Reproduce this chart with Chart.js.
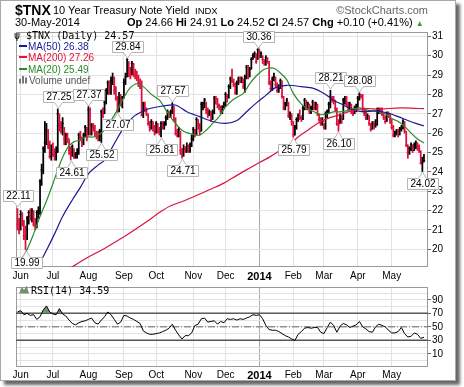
<!DOCTYPE html>
<html><head><meta charset="utf-8">
<script src="https://cdn.jsdelivr.net/npm/chart.js@4.4.1/dist/chart.umd.min.js"></script>
<style>
html,body{margin:0;padding:0;background:#fff;width:464px;height:387px;overflow:hidden;}
#frame{position:absolute;left:0;top:0;width:454px;height:379px;border:1px solid #a8a8a8;box-shadow:4px 4px 3px rgba(0,0,0,0.6);background:#fff;}
canvas{position:absolute;left:0;}
.t{position:absolute;white-space:nowrap;line-height:1;font-family:"Liberation Sans",Arial,sans-serif;color:#000;}
.mono{font-family:"DejaVu Sans Mono",monospace;font-size:10px;}
.dash{display:inline-block;width:8px;height:2px;vertical-align:middle;margin-right:1px;position:relative;top:-1px;}
</style></head><body>
<div id="frame"></div>
<canvas id="c1" width="464" height="285" style="top:0;width:464px;height:285px"></canvas>
<canvas id="c2" width="464" height="101" style="top:280px;width:464px;height:101px"></canvas>

<div class="t" style="left:15px;top:3px;font-size:14px;font-weight:bold">$TNX</div>
<div class="t" style="left:53px;top:4.5px;font-size:11px">10 Year Treasury Note Yield</div>
<div class="t" style="left:195px;top:5.5px;font-size:9.5px">INDX</div>
<div class="t" style="right:36px;top:4.5px;font-size:11px;color:#666">©StockCharts.com</div>
<div class="t" style="left:15px;top:17.4px;font-size:11px">30-May-2014</div>
<div class="t" style="left:127px;top:17.4px;font-size:11px"><b>Op</b> 24.66 <b>Hi</b> 24.91 <b>Lo</b> 24.52 <b>Cl</b> 24.57 <b>Chg</b> +0.10 (+0.41%) <span style="color:#3a9a3a;font-size:8px">▲</span></div>

<div class="t mono" style="left:14px;top:31px">ψ $TNX (Daily) 24.57</div>
<div class="t" style="left:19px;top:41.5px;font-size:10px;color:#1a1a96"><span class="dash" style="background:#1a1a96"></span>MA(50) 26.38</div>
<div class="t" style="left:19px;top:53px;font-size:10px;color:#dc143c"><span class="dash" style="background:#dc143c"></span>MA(200) 27.26</div>
<div class="t" style="left:19px;top:64.5px;font-size:10px;color:#2b8a2b"><span class="dash" style="background:#2b8a2b"></span>MA(20) 25.49</div>
<div class="t" style="left:19px;top:75.5px;font-size:10px;color:#555"><span style="display:inline-block;width:9px;height:8px;margin-right:1px;background:linear-gradient(90deg,#777 0 2px,transparent 2px 3px,#777 3px 5px,transparent 5px 6px,#777 6px 8px,transparent 8px);clip-path:polygon(0 40%,33% 40%,33% 0,66% 0,66% 25%,100% 25%,100% 100%,0 100%)"></span>Volume undef</div>

<div class="t mono" style="left:19px;top:285.5px"><span style="display:inline-block;width:10px;height:8px;background:#6f8f6f;clip-path:polygon(0 100%,30% 15%,50% 55%,75% 0,100% 100%);margin-right:2px"></span>RSI(14) 34.59</div>

<script>
// ---------- data ----------
const monthIdx = [2,22,44,66,86,109,129,150,171,190,211,232];
const monthLbl = ['Jun','Jul','Aug','Sep','Oct','Nov','Dec','2014','Feb','Mar','Apr','May'];
const priceTicks = [20,21,22,23,24,25,26,27,28,29,30,31];
const rsiTicks = [0,10,20,30,40,50,60,70,80,90,100];
const rsiLabeled = [10,30,50,70,90];

const hi = [
22.11,21.6,22.0,21.9,21.5,21.2,21.7,22.0,22.1,22.1,
22.0,21.6,22.0,22.2,23.6,24.4,25.3,26.6,26.5,26.2,
25.6,25.4,25.5,25.2,25.3,27.25,27.0,26.6,26.8,26.3,
26.0,26.0,25.7,25.3,25.4,25.2,25.0,25.2,26.0,26.1,
25.8,26.0,26.4,26.3,27.37,27.3,26.5,26.5,26.4,26.1,
26.1,26.2,27.2,27.3,27.8,28.3,28.7,28.7,28.9,29.1,
28.9,28.4,27.9,28.1,28.0,27.9,28.8,29.1,29.84,29.7,
29.4,29.7,29.6,29.3,29.2,29.0,28.8,28.7,27.6,27.6,
27.3,27.0,26.6,26.7,26.6,26.4,26.6,26.5,26.3,26.6,
26.6,26.6,26.9,27.2,27.1,27.2,27.57,27.4,26.8,26.2,
26.3,26.1,25.2,25.4,25.3,25.5,25.4,25.5,25.9,26.3,
26.2,26.8,26.7,26.5,27.6,27.6,27.8,27.6,27.3,27.2,
27.1,27.2,27.9,27.9,27.8,27.5,27.4,27.4,27.6,28.1,
28.0,28.5,28.9,29.3,28.8,28.6,28.7,28.9,28.9,28.9,
28.8,29.0,29.5,29.5,29.4,29.9,30.1,30.2,30.1,30.36,
30.3,30.2,30.0,29.8,30.0,29.9,29.7,28.7,28.9,29.1,
28.9,28.6,28.5,28.8,28.7,27.9,27.6,27.8,27.6,27.1,
27.0,26.6,26.4,26.8,27.0,27.2,26.9,27.4,27.8,27.7,
27.6,27.5,27.4,27.7,27.6,27.6,27.5,27.0,26.8,26.8,
26.5,27.1,27.2,27.6,28.21,27.9,27.9,27.7,27.3,26.7,
27.0,26.9,27.8,27.9,27.9,27.6,27.6,27.5,27.2,27.4,
27.5,27.9,28.08,28.0,28.0,27.3,27.2,27.0,26.9,26.5,
26.6,26.6,26.7,27.3,27.3,27.3,27.3,27.0,26.9,27.1,
27.1,27.0,26.7,26.4,26.1,26.2,26.2,26.3,26.4,26.7,
26.6,26.1,25.4,25.3,25.5,25.4,25.5,25.6,25.5,25.4,
25.1,24.76,24.91];

const lo = [
21.0,20.8,21.0,21.2,20.5,19.99,20.5,21.3,21.5,21.4,
21.2,21.0,21.1,21.6,21.8,23.3,23.9,25.0,25.4,25.2,
24.7,24.6,24.8,24.6,24.6,25.0,26.1,26.0,25.9,25.4,
25.4,25.5,24.9,24.61,24.8,24.7,24.7,24.7,24.9,25.6,
25.3,25.4,25.8,25.6,25.9,25.9,25.9,26.1,25.8,25.7,
25.6,25.6,25.52,26.8,27.0,27.5,28.0,28.0,28.0,28.5,
28.0,27.7,27.07,27.1,27.4,27.3,27.8,28.5,28.9,28.9,
28.8,29.0,28.9,28.8,28.7,28.4,28.3,26.9,26.8,27.1,
26.9,26.4,26.1,26.2,26.1,25.9,26.0,26.0,25.9,25.81,
26.2,26.2,26.4,26.7,26.8,26.8,27.0,26.6,25.9,25.8,
25.8,24.9,24.71,24.8,25.0,25.0,25.0,25.0,25.3,25.6,
25.8,25.9,26.2,25.9,26.1,27.2,27.3,27.0,26.8,26.9,
26.6,26.7,27.0,27.5,27.3,27.2,27.0,27.0,27.3,27.4,
27.6,27.8,28.3,28.6,28.4,28.0,28.0,28.5,28.6,28.6,
28.3,28.1,28.8,28.8,28.9,29.3,29.8,29.9,29.6,29.8,
29.9,29.9,29.6,29.5,29.5,29.6,28.5,28.2,28.2,28.7,
28.4,28.1,28.1,28.3,27.8,27.2,27.2,27.4,26.8,26.7,
26.4,25.79,25.9,26.2,26.6,26.7,26.6,26.7,27.2,27.2,
27.2,27.0,27.0,27.2,27.2,27.2,26.9,26.6,26.4,26.4,
26.2,26.2,26.8,27.0,27.3,27.6,27.5,27.1,26.4,26.10,
26.5,26.5,26.7,27.5,27.4,27.2,27.2,27.0,26.9,27.0,
27.1,27.3,27.7,27.8,27.1,26.9,26.7,26.7,26.4,26.1,
26.2,26.2,26.3,26.4,27.0,27.0,26.9,26.7,26.5,26.6,
26.8,26.5,26.2,25.8,25.8,25.9,25.8,25.9,26.1,26.2,
26.0,25.3,24.7,24.9,25.1,25.0,25.1,25.2,25.1,25.0,
24.4,24.02,24.52];

const cl = [
21.3,21.0,21.8,21.4,20.7,20.6,21.6,21.9,21.7,22.0,
21.3,21.2,21.9,22.0,23.5,24.1,25.2,25.5,26.1,25.4,
24.8,25.0,24.9,24.8,25.0,27.0,26.4,26.3,26.5,25.7,
25.9,25.7,25.1,25.0,25.3,24.8,24.9,25.0,25.9,25.8,
25.5,25.9,26.3,25.8,27.2,26.0,26.4,26.3,26.0,25.9,
25.8,26.1,27.1,27.0,27.6,28.2,28.6,28.1,28.7,28.8,
28.2,27.8,27.2,27.8,27.5,27.8,28.6,28.9,29.8,29.3,
29.0,29.6,29.1,29.0,28.9,28.6,28.5,26.9,27.5,27.3,
27.0,26.5,26.3,26.6,26.3,26.1,26.5,26.2,26.1,26.5,
26.4,26.5,26.8,27.1,27.0,27.1,27.3,26.7,26.0,25.9,
26.2,25.1,24.9,25.2,25.15,25.3,25.1,25.4,25.7,26.2,
26.0,26.7,26.4,26.1,27.5,27.55,27.7,27.2,27.0,27.1,
26.7,27.1,27.8,27.75,27.5,27.4,27.1,27.4,27.5,28.0,
27.9,28.4,28.8,28.7,28.5,28.1,28.6,28.8,28.7,28.8,
28.4,28.9,29.4,28.9,29.3,29.8,30.0,30.1,29.7,30.3,
30.0,30.1,29.8,29.6,29.9,29.7,28.6,28.3,28.8,28.9,
28.5,28.2,28.3,28.7,27.9,27.3,27.5,27.7,26.9,27.0,
26.6,25.9,26.3,26.7,26.9,26.8,26.75,27.3,27.7,27.4,
27.5,27.1,27.3,27.6,27.3,27.5,27.0,26.7,26.5,26.6,
26.3,27.0,27.1,27.5,27.9,27.8,27.7,27.3,26.5,26.45,
26.9,26.7,27.7,27.8,27.5,27.4,27.5,27.1,27.0,27.3,
27.35,27.8,28.0,27.9,27.2,27.1,26.8,26.9,26.5,26.2,
26.5,26.4,26.45,27.2,27.25,27.2,27.0,26.8,26.6,27.0,
26.95,26.7,26.3,25.9,26.0,26.1,26.0,26.2,26.25,26.6,
26.1,25.4,25.0,25.2,25.4,25.1,25.4,25.5,25.3,25.2,
24.45,24.47,24.57];

const ma20X = [0,6,10,14,18,22,25,28,32,35,39,42,47,50,54,58,62,66,70,74,78,83,88,92,96,102,108,113,117,121,125,129,134,140,144,148,152,155,159,163,167,171,176,180,184,188,192,196,200,204,208,212,216,220,224,228,232,236,240,244,248,252];
const ma20V = [19.1,20.0,20.8,21.7,22.5,23.4,24.1,24.75,25.35,25.55,25.65,25.8,25.8,25.9,26.15,26.65,27.2,27.85,28.35,28.55,28.4,28.0,27.7,27.2,26.7,26.15,25.95,25.9,26.15,26.5,26.85,27.35,27.75,28.05,28.55,28.95,29.25,29.35,29.35,29.1,28.75,28.05,27.5,27.25,27.1,26.95,27.0,27.1,27.1,27.15,27.25,27.3,27.2,27.15,27.1,27.0,26.75,26.6,26.35,26.0,25.7,25.49];

const ma50X = [12,18,23,28,34,39,44,50,54,60,66,72,77,82,90,98,105,113,121,129,136,142,148,154,160,167,176,184,190,196,202,208,215,221,229,236,242,247,252];
const ma50V = [19.0,19.95,20.8,21.7,22.55,23.2,23.9,24.35,24.6,25.45,26.3,26.85,27.1,27.27,27.4,27.45,27.1,26.85,26.6,26.5,26.65,27.1,27.55,27.95,28.35,28.47,28.4,28.3,28.05,27.7,27.45,27.2,27.1,27.15,27.05,26.85,26.65,26.5,26.38];

const ma200X = [32,43,55,68,80,88,95,103,111,119,128,136,144,150,157,163,169,174,180,186,192,199,205,211,217,224,230,238,246,252];
const ma200V = [19.0,19.55,20.1,20.75,21.42,21.9,22.25,22.5,22.78,23.08,23.42,23.82,24.2,24.48,24.8,25.12,25.42,25.8,26.15,26.5,26.75,26.93,27.1,27.22,27.27,27.23,27.27,27.3,27.28,27.26];

// RSI(14), one value every 2 trading days (index 0,2,4,...,252)
const rsiV = [72,74,68,70,67,68,61,65,75,81,
72,69,68,77,69,66,60,55,53,56,
58,59,61,63,56,54,60,65,72,68,
61,54,57,67,66,63,61,58,55,44,
41,39,39,40,41,43,45,48,54,45,
38,32,37,37,41,52,54,62,63,57,
58,59,54,58,56,62,61,62,60,62,
61,63,65,68,67,68,62,52,46,45,
45,43,40,37,35,32,30,39,43,48,
49,48,49,49,42,40,49,57,52,42,
51,55,53,49,51,53,58,50,47,43,
42,50,54,52,50,45,41,41,43,49,
40,35,36,41,39,33,34.59];

const annIdx  = [0,5,25,33,44,52,62,68,89,96,102,149,171,194,199,212,251];
const annHigh = [1,0,1,0,1,0,0,1,0,1,0,1,0,1,0,1,0];

// ---------- chart ----------
const F = '"Liberation Sans", Arial, sans-serif';
const XMIN = -0.9, XMAX = 254.5;
const N = cl.length;
const idxs = Array.from({length:N}, (_, i) => i);
const RED = '#e0103c', BLK = '#000000';
const barCol = idxs.map(i => (i > 0 && cl[i] > cl[i-1]) ? BLK : RED);
const pts = (xs, vs) => xs.map((x, k) => ({x: x, y: vs[k]}));

const frameBox = {id:'frameBox', beforeDatasetsDraw(ch){
  const a = ch.chartArea, g = ch.ctx;
  g.save(); g.strokeStyle = '#9a9a9a'; g.lineWidth = 1;
  g.strokeRect(Math.round(a.left)+0.5, Math.round(a.top)+0.5, Math.round(a.right-a.left)-1, Math.round(a.bottom-a.top)-1);
  g.restore();
}};

const annPlugin = {id:'ann', afterDatasetsDraw(ch){
  const g = ch.ctx, x = ch.scales.x, y = ch.scales.y;
  g.save();
  g.font = '10px ' + F;
  g.textAlign = 'center'; g.textBaseline = 'middle';
  annIdx.forEach((i, k) => {
    const up = annHigh[k] === 1;
    const v = up ? hi[i] : lo[i];
    const txt = v.toFixed(2);
    const px = Math.round(x.getPixelForValue(i)) + 0.5;
    const py = y.getPixelForValue(v);
    const w = Math.ceil(g.measureText(txt).width) + 5, h = 11;
    const tip = up ? Math.round(py) - 1 : Math.round(py) + 1;
    const bx = Math.round(px - w/2) + 0.5;
    const by = up ? tip - 6 - h + 0.5 : tip + 6 + 0.5;
    g.beginPath();
    if (up) {
      g.moveTo(bx, by); g.lineTo(bx+w, by); g.lineTo(bx+w, by+h);
      g.lineTo(px+4, by+h); g.lineTo(px, tip); g.lineTo(px-4, by+h); g.lineTo(bx, by+h);
    } else {
      g.moveTo(bx, by); g.lineTo(px-4, by); g.lineTo(px, tip); g.lineTo(px+4, by);
      g.lineTo(bx+w, by); g.lineTo(bx+w, by+h); g.lineTo(bx, by+h);
    }
    g.closePath();
    g.fillStyle = '#ffffff'; g.fill();
    g.strokeStyle = '#b4b4b4'; g.lineWidth = 1; g.stroke();
    g.fillStyle = '#000'; g.fillText(txt, bx + w/2, by + h/2 + 0.5);
  });
  g.restore();
}};

const xTickFont = c => (c.tick && c.tick.value === 150) ? {family:F, size:11, weight:'bold'} : {family:F, size:10};
const xGridCol = c => (c.tick && c.tick.value === 150) ? '#a8a8a8' : '#e2e2e2';

new Chart(document.getElementById('c1'), {
  type: 'bar',
  data: { datasets: [
    {type:'line', data: pts(ma200X, ma200V), borderColor:'#dc143c', borderWidth:1.2, pointRadius:0, tension:0.3, order:0},
    {type:'line', data: pts(ma50X, ma50V), borderColor:'#1a1a96', borderWidth:1.2, pointRadius:0, tension:0.3, order:0},
    {type:'line', data: pts(ma20X, ma20V), borderColor:'#2b8a2b', borderWidth:1.2, pointRadius:0, tension:0.3, order:0},
    {type:'bar', data: idxs.map(i => ({x:i, y:[lo[i], hi[i]]})), backgroundColor: barCol, borderWidth:0, barThickness:1.1, order:2},
    {type:'scatter', data: idxs.map(i => ({x:i, y:cl[i]})), pointStyle:'line', pointRadius:1.2, borderWidth:1, borderColor: barCol, backgroundColor: barCol, order:3}
  ]},
  options: {
    responsive:false, animation:false, events:[],
    layout:{padding:{left:16, top:32, right:0, bottom:0}},
    plugins:{legend:{display:false}, tooltip:{enabled:false}},
    scales:{
      x:{type:'linear', min:XMIN, max:XMAX, offset:false, position:'bottom',
         afterBuildTicks: s => { s.ticks = monthIdx.map(v => ({value:v})); },
         afterFit: s => { s.height = 18; },
         grid:{offset:false, color:xGridCol, drawTicks:false},
         border:{display:false},
         ticks:{autoSkip:false, maxRotation:0, padding:3, color:'#000', font:xTickFont,
                callback: v => monthLbl[monthIdx.indexOf(v)]}},
      y:{type:'linear', position:'right', min:19.09, max:31.22, beginAtZero:false,
         afterBuildTicks: s => { s.ticks = priceTicks.map(v => ({value:v})); },
         afterFit: s => { s.width = 36; },
         grid:{color:'#e2e2e2', tickColor:'#666', tickLength:3},
         border:{display:false},
         ticks:{autoSkip:false, padding:1, color:'#000', font:{family:F, size:10}, callback: v => String(v)}}
    }
  },
  plugins:[frameBox, annPlugin]
});

const rsiPts = rsiV.map((v, k) => ({x: k*2, y: v}));
const hline = v => [{x:XMIN, y:v}, {x:XMAX, y:v}];
new Chart(document.getElementById('c2'), {
  type: 'line',
  data: { datasets: [
    {data: rsiPts, borderColor:'#000', borderWidth:1, pointRadius:0, tension:0,
     fill:{target:{value:70}, above:'#6f8f6f', below:'rgba(0,0,0,0)'}, order:0},
    {data: hline(70), borderColor:'#555', borderWidth:1.5, pointRadius:0, order:1},
    {data: hline(30), borderColor:'#555', borderWidth:1.5, pointRadius:0, order:1},
    {data: hline(50), borderColor:'#666', borderWidth:1, borderDash:[7,2,1,2], pointRadius:0, order:1}
  ]},
  options: {
    responsive:false, animation:false, events:[],
    layout:{padding:{left:16, top:4, right:0, bottom:0}},
    plugins:{legend:{display:false}, tooltip:{enabled:false}},
    scales:{
      x:{type:'linear', min:XMIN, max:XMAX, offset:false, position:'bottom',
         afterBuildTicks: s => { s.ticks = monthIdx.map(v => ({value:v})); },
         afterFit: s => { s.height = 14.3; },
         grid:{color:xGridCol, drawTicks:false},
         border:{display:false},
         ticks:{autoSkip:false, maxRotation:0, padding:3, color:'#000', font:xTickFont,
                callback: v => monthLbl[monthIdx.indexOf(v)]}},
      y:{type:'linear', position:'right', min:-9, max:109,
         afterBuildTicks: s => { s.ticks = rsiTicks.map(v => ({value:v})); },
         afterFit: s => { s.width = 36; },
         grid:{color:'#e2e2e2', tickColor: c => rsiLabeled.includes(c.tick && c.tick.value) ? '#666' : 'rgba(0,0,0,0)', tickLength:3},
         border:{display:false},
         ticks:{autoSkip:false, padding:1, color:'#000', font:{family:F, size:10},
                callback: v => rsiLabeled.includes(v) ? String(v) : ''}}
    }
  },
  plugins:[frameBox]
});
</script>
</body></html>
